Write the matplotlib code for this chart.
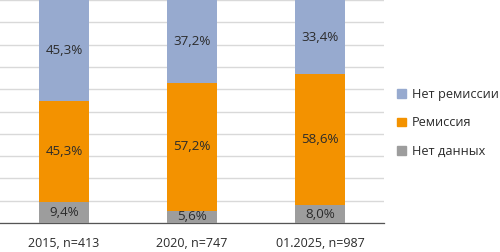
import matplotlib
matplotlib.use("Agg")
import matplotlib.pyplot as plt
from matplotlib.patches import Patch

categories = ["2015, n=413", "2020, n=747", "01.2025, n=987"]
no_data = [9.4, 5.6, 8.0]
remission = [45.3, 57.2, 58.6]
no_remission = [45.3, 37.2, 33.4]

series_names = ["Нет ремиссии", "Ремиссия", "Нет данных"]
c_blue = "#97AACF"
c_orange = "#F39200"
c_gray = "#9D9D9D"
txt = "#2B2B2B"

plt.rcParams['font.family'] = ['Open Sans', 'DejaVu Sans']

fig = plt.figure(figsize=(5.0, 2.52), dpi=100)
ax = fig.add_axes([0.0, 0.115, 0.768, 0.885])

x = list(range(len(categories)))
w = 0.39
ax.bar(x, no_data, width=w, color=c_gray, zorder=3)
ax.bar(x, remission, width=w, bottom=no_data, color=c_orange, zorder=3)
bottom3 = [a + b for a, b in zip(no_data, remission)]
ax.bar(x, no_remission, width=w, bottom=bottom3, color=c_blue, zorder=3)

def fmt(v):
    return f"{v:.1f}%".replace(".", ",")

fs_lab = 9.6
fs_tick = 9.0
fs_leg = 9.2
for i in x:
    ax.text(i, no_data[i] / 2, fmt(no_data[i]), ha="center", va="center",
            fontsize=fs_lab, color=txt, zorder=4)
    ax.text(i, no_data[i] + remission[i] / 2, fmt(remission[i]), ha="center",
            va="center", fontsize=fs_lab, color=txt, zorder=4)
    ax.text(i, bottom3[i] + no_remission[i] / 2, fmt(no_remission[i]),
            ha="center", va="center", fontsize=fs_lab, color=txt, zorder=4)

ax.set_xlim(-0.5, 2.5)
ax.set_ylim(0, 100)
ax.set_yticks(range(0, 101, 10))
ax.yaxis.grid(True, color="#D9D9D9", linewidth=1.0, zorder=0)
ax.set_axisbelow(True)
ax.tick_params(axis="y", left=False, labelleft=False)
ax.tick_params(axis="x", length=0, labelsize=fs_tick, colors=txt, pad=10)
ax.set_xticks(x)
ax.set_xticklabels(categories)
for s in ["top", "right", "left"]:
    ax.spines[s].set_visible(False)
ax.spines["bottom"].set_color("#555555")
ax.spines["bottom"].set_linewidth(0.9)

handles = [Patch(color=c_blue), Patch(color=c_orange), Patch(color=c_gray)]
fig.legend(handles, series_names, loc="center left", bbox_to_anchor=(0.787, 0.512),
           frameon=False, fontsize=fs_leg, handlelength=0.7, handleheight=0.7,
           handletextpad=0.45, labelspacing=1.2, labelcolor=txt,
           borderaxespad=0, borderpad=0.3)

fig.savefig("out.png", dpi=100)
